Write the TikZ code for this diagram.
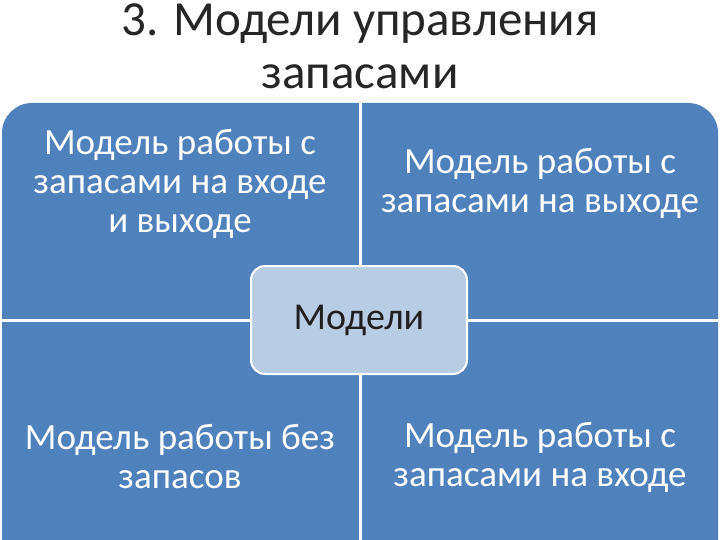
\documentclass[tikz,border=0pt]{standalone}
\usepackage{fontspec}
\setmainfont{Carlito}
\definecolor{qblue}{HTML}{4F81BD}
\definecolor{cfill}{HTML}{B8CCE4}
\definecolor{ctext}{HTML}{1F1F1F}
\begin{document}
\begin{tikzpicture}[x=1pt,y=-1pt,
  qtext/.style={text=white,align=center,font=\fontsize{37}{39}\selectfont},
  ttext/.style={text=black!85,align=center,font=\fontsize{49}{53}\selectfont}]
\useasboundingbox (0,0) rectangle (720,540);
\fill[white] (0,0) rectangle (720,540);
\begin{scope}
\clip (0,0) rectangle (720,540);
\fill[qblue,rounded corners=30] (2,103) rectangle (718,600);
\end{scope}
\draw[white,line width=3] (360,103) -- (360,540);
\draw[white,line width=3] (2,320) -- (718,320);
\node[ttext] (title) at (360,46) {3. Модели управления\\запасами};
\node[qtext] (tl) at (180,184) {Модель работы с\\запасами на входе\\и выходе};
\node[qtext] (tr) at (540,183) {Модель работы с\\запасами на выходе};
\node[qtext] (bl) at (180,457) {Модель работы без\\запасов};
\node[qtext] (br) at (540,457) {Модель работы с\\запасами на входе};
\node[draw=white,line width=2,fill=cfill,rounded corners=14,minimum width=216,minimum height=108,
  text=ctext,font=\fontsize{38}{40}\selectfont] (c) at (359,320) {Модели};
\end{tikzpicture}
\end{document}
